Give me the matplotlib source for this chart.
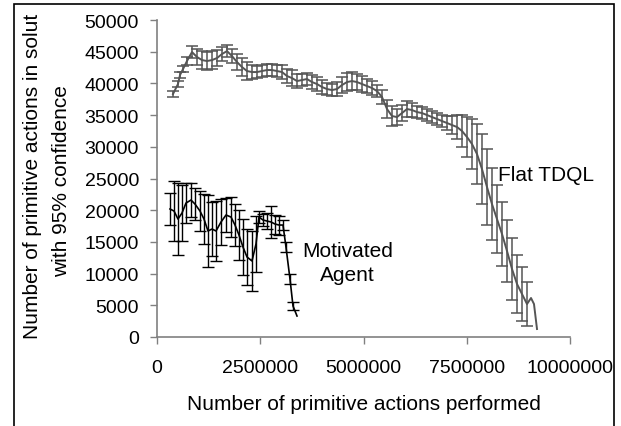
import numpy as np
import matplotlib
matplotlib.use("Agg")
import matplotlib.pyplot as plt
from matplotlib.patches import Rectangle

plt.rcParams['font.family'] = ['Liberation Sans', 'DejaVu Sans']

# ---- Flat TDQL series ----
tdql_x = [387000, 508000, 557000, 630000, 726000, 847000, 969000, 1090000, 1211000, 1332000,
          1453000, 1574000, 1695000, 1816000, 1937000, 2058000, 2179000, 2300000, 2421000, 2542000,
          2663000, 2785000, 2906000, 3027000, 3148000, 3269000, 3390000, 3511000, 3632000, 3753000,
          3874000, 3995000, 4116000, 4237000, 4358000, 4479000, 4600000, 4722000, 4843000, 4964000,
          5085000, 5206000, 5327000, 5448000, 5569000, 5690000, 5811000, 5932000, 6053000, 6174000,
          6295000, 6416000, 6538000, 6659000, 6780000, 6901000, 7022000, 7143000, 7264000, 7385000,
          7506000, 7627000, 7748000, 7869000, 7990000, 8111000, 8232000, 8354000, 8475000, 8596000,
          8717000, 8838000, 8959000, 9056000, 9128000, 9201000]
tdql_y = [38320, 39900, 41320, 42260, 43530, 44940, 44160, 43680, 43530, 43680,
          44000, 44630, 45100, 44310, 43370, 42580, 41950, 41790, 41790, 41950,
          42110, 42110, 41950, 41790, 41160, 40840, 40370, 40530, 40690, 40210,
          39900, 39430, 39110, 38950, 39110, 39740, 40210, 40370, 40210, 39900,
          39580, 39270, 38790, 37850, 35960, 34850, 34690, 35320, 35960, 35800,
          35480, 35320, 35010, 34690, 34380, 34060, 33750, 33430, 33120, 32490,
          31540, 30440, 28860, 26490, 23660, 20970, 18610, 16240, 13560, 10720,
          8360, 6780, 5200, 6150, 5200, 1260]
tdql_err = [470, 470, 500, 500, 630, 950, 1260, 1420, 1420, 1420,
            1260, 1100, 950, 1100, 1260, 1420, 1420, 1100, 950, 950,
            950, 950, 950, 1100, 1100, 1260, 1100, 950, 950, 1100,
            1100, 1100, 950, 950, 1100, 1260, 1420, 1420, 1260, 1260,
            1100, 1100, 950, 1100, 1420, 1580, 1260, 1260, 1260, 1100,
            950, 950, 950, 950, 950, 950, 1100, 1420, 1890, 2520,
            3150, 3940, 4730, 5520, 5990, 5680, 5360, 5050, 4890, 4890,
            4570, 4260, 3470, 0, 0, 0]

# ---- Motivated Agent series ----
mot_x = [315000, 412000, 508000, 605000, 702000, 823000, 920000, 1041000, 1138000, 1235000,
         1332000, 1429000, 1550000, 1671000, 1792000, 1889000, 1985000, 2082000, 2179000, 2300000,
         2397000, 2470000, 2567000, 2663000, 2760000, 2857000, 2954000, 3051000, 3123000, 3220000,
         3293000, 3390000]
mot_y = [20190, 19870, 18610, 19550, 21130, 21600, 20970, 19870, 18610, 16720,
         17030, 16720, 18140, 19240, 18920, 17660, 16090, 14190, 12620, 11990,
         14670, 18920, 18450, 18290, 18140, 17820, 17660, 17660, 14190, 9150,
         4890, 3310]
mot_err = [2500, 4700, 5700, 4400, 3200, 2700, 2500, 3200, 3900, 5700,
           4300, 4700, 3600, 2700, 3200, 3300, 3900, 4400, 4400, 4700,
           4400, 1000, 1000, 1200, 2500, 1500, 1500, 800, 800, 800,
           600, 0]

x_ticks = [0, 2500000, 5000000, 7500000, 10000000]
y_ticks = [0, 5000, 10000, 15000, 20000, 25000, 30000, 35000, 40000, 45000, 50000]

W, H = 621, 427
fig = plt.figure(figsize=(W / 100, H / 100), dpi=100)
ax = fig.add_axes([157 / W, 1 - 338 / H, (570 - 157) / W, (338 - 21) / H])

tdql_col = '#555555'
mot_col = '#000000'

tx = np.array(tdql_x); ty = np.array(tdql_y); te = np.array(tdql_err)
mx = np.array(mot_x); my = np.array(mot_y); me = np.array(mot_err)

ax.plot(tx, ty, color=tdql_col, lw=1.4, zorder=3)
m = te > 0
ax.errorbar(tx[m], ty[m], yerr=te[m], fmt='none', ecolor=tdql_col,
            elinewidth=1.1, capsize=4, capthick=1.1, zorder=2)

ax.plot(mx, my, color=mot_col, lw=1.2, zorder=4)
m2 = me > 0
ax.errorbar(mx[m2], my[m2], yerr=me[m2], fmt='none', ecolor=mot_col,
            elinewidth=1.0, capsize=4, capthick=1.0, zorder=4)

ax.set_xlim(0, 10000000)
ax.set_ylim(0, 50000)
ax.set_xticks(x_ticks)
ax.set_yticks(y_ticks)
ax.set_xticklabels([str(v) for v in x_ticks])
ax.set_yticklabels([str(v) for v in y_ticks])

for s in ['top', 'right']:
    ax.spines[s].set_visible(False)
for s in ['left', 'bottom']:
    ax.spines[s].set_color('#808080')
    ax.spines[s].set_linewidth(1.2)
ax.tick_params(axis='both', direction='out', length=5, width=1.0, color='#808080',
               labelsize=14, labelcolor='black')
ax.tick_params(axis='y', pad=8)
ax.tick_params(axis='x', pad=11)

ax.set_xlabel('Number of primitive actions performed', fontsize=15, labelpad=13)

fig.text(33 / W, 1 - 176.5 / H, 'Number of primitive actions in solut', rotation=90,
         ha='center', va='center', fontsize=15)
fig.text(62 / W, 1 - 181 / H, 'with 95% confidence', rotation=90,
         ha='center', va='center', fontsize=15)

ax.text(4620000, 11700, 'Motivated\nAgent', ha='center', va='center',
        multialignment='center', fontsize=15, linespacing=1.35)
ax.text(8257000, 25700, 'Flat TDQL', ha='left', va='center', fontsize=15)

fig.add_artist(Rectangle((13.5 / W, -0.02), (614 - 13.5) / W, 1.02 - 4.5 / H,
                         transform=fig.transFigure, fill=False, edgecolor='black', lw=1.2))

fig.savefig('out.png', dpi=100)
